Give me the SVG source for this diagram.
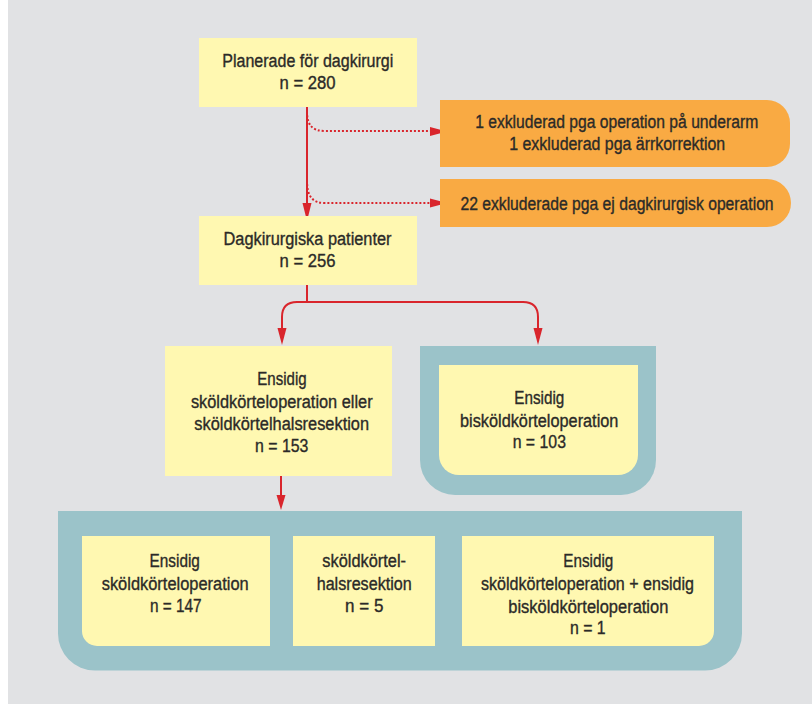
<svg xmlns="http://www.w3.org/2000/svg" width="812" height="704" viewBox="0 0 812 704">
<defs>
<style>
.t{font-family:"Liberation Sans Narrow","Liberation Sans",Arial,sans-serif;font-size:18px;fill:#2b2a28;stroke:#2b2a28;stroke-width:0.35;text-anchor:middle}
.y{fill:#fff8b1}
.o{fill:#f9aa43}
.f{fill:#9bc3c9}
.ln{fill:none;stroke:#d9252c;stroke-width:2}
.dt{fill:none;stroke:#d9252c;stroke-width:2;stroke-dasharray:2 2}
.ah{fill:#d9252c}
</style>
</defs>
<rect x="0" y="0" width="812" height="704" fill="#ffffff"/>
<rect x="8" y="0" width="804" height="704" fill="#e1e2e4"/>

<g id="connectors">
<path class="ln" d="M307,107 V205"/>
<polygon class="ah" points="302.5,203 311.5,203 307,221"/>
<path class="dt" d="M307,111 C307,125 312,131 325,131 H432"/>
<polygon class="ah" points="430,127 430,136 447,131.5"/>
<path class="dt" d="M307,180 C307,196 312,203 325,203 H432"/>
<polygon class="ah" points="430,198.5 430,207.5 447,203"/>
<path class="ln" d="M307,285 V302 H297 Q282,302 282,317 V330"/>
<path class="ln" d="M307,302 H523 Q538,302 538,317 V330"/>
<polygon class="ah" points="277.5,328 286.5,328 282,345"/>
<polygon class="ah" points="533.5,328 542.5,328 538,345"/>
<path class="ln" d="M281,476 V497"/>
<polygon class="ah" points="276.5,495 285.5,495 281,510"/>
</g>

<g id="n1">
<rect class="y" x="199" y="38" width="218" height="69"/>
<text class="t" x="307.8" y="67" textLength="171" lengthAdjust="spacingAndGlyphs">Planerade för dagkirurgi</text>
<text class="t" x="307.5" y="89" textLength="56" lengthAdjust="spacingAndGlyphs">n = 280</text>
</g>

<g id="ex1">
<path class="o" d="M440,100 H767 A23,23 0 0 1 790,123 V144 A23,23 0 0 1 767,167 H440 Z"/>
<text class="t" x="616.7" y="128" textLength="283" lengthAdjust="spacingAndGlyphs">1 exkluderad pga operation på underarm</text>
<text class="t" x="617.2" y="150" textLength="216" lengthAdjust="spacingAndGlyphs">1 exkluderad pga ärrkorrektion</text>
</g>

<g id="ex2">
<path class="o" d="M440,179 H767 A24,24 0 0 1 791,203 A24,24 0 0 1 767,227 H440 Z"/>
<text class="t" transform="translate(617,209.5) scale(0.87,1)" x="0" y="0" textLength="360" lengthAdjust="spacingAndGlyphs">22 exkluderade pga ej dagkirurgisk operation</text>
</g>

<g id="n2">
<rect class="y" x="199" y="216" width="218" height="69"/>
<text class="t" x="307.5" y="245" textLength="168" lengthAdjust="spacingAndGlyphs">Dagkirurgiska patienter</text>
<text class="t" x="307.5" y="267" textLength="56" lengthAdjust="spacingAndGlyphs">n = 256</text>
</g>

<g id="n3">
<rect class="y" x="165" y="346" width="227" height="130"/>
<text class="t" x="282" y="385" textLength="49.3" lengthAdjust="spacingAndGlyphs">Ensidig</text>
<text class="t" x="281.8" y="407.7" textLength="181.7" lengthAdjust="spacingAndGlyphs">sköldkörteloperation eller</text>
<text class="t" x="281.7" y="430" textLength="174.7" lengthAdjust="spacingAndGlyphs">sköldkörtelhalsresektion</text>
<text class="t" x="281.7" y="451.7" textLength="53.3" lengthAdjust="spacingAndGlyphs">n = 153</text>
</g>

<g id="n4">
<path class="f" d="M420,346 H656 V460 A35,35 0 0 1 621,495 H455 A35,35 0 0 1 420,460 Z"/>
<path class="y" d="M439,365 H638 V455 A20,20 0 0 1 618,475 H459 A20,20 0 0 1 439,455 Z"/>
<text class="t" x="539.3" y="404" textLength="50" lengthAdjust="spacingAndGlyphs">Ensidig</text>
<text class="t" x="539.2" y="426.7" textLength="158.3" lengthAdjust="spacingAndGlyphs">bisköldkörteloperation</text>
<text class="t" x="539.3" y="448.3" textLength="53.3" lengthAdjust="spacingAndGlyphs">n = 103</text>
</g>

<g id="n5">
<path class="f" d="M58,511 H742 V633 A37,37 0 0 1 705,670.5 H95 A37,37 0 0 1 58,633 Z"/>
</g>

<g id="n5a">
<path class="y" d="M82,536 H270 V646 H97 A15,15 0 0 1 82,631 Z"/>
<text class="t" x="174.7" y="567.3" textLength="50.3" lengthAdjust="spacingAndGlyphs">Ensidig</text>
<text class="t" x="175.2" y="590" textLength="147" lengthAdjust="spacingAndGlyphs">sköldkörteloperation</text>
<text class="t" x="175.8" y="612.3" textLength="51.7" lengthAdjust="spacingAndGlyphs">n = 147</text>
</g>

<g id="n5b">
<rect class="y" x="293" y="536" width="142" height="110"/>
<text class="t" x="364.2" y="567.3" textLength="83.7" lengthAdjust="spacingAndGlyphs">sköldkörtel-</text>
<text class="t" x="364.2" y="590" textLength="95" lengthAdjust="spacingAndGlyphs">halsresektion</text>
<text class="t" x="364.2" y="612.3" textLength="38.3" lengthAdjust="spacingAndGlyphs">n = 5</text>
</g>

<g id="n5c">
<path class="y" d="M462,536 H714 V631 A15,15 0 0 1 699,646 H462 Z"/>
<text class="t" x="588.3" y="566.7" textLength="50" lengthAdjust="spacingAndGlyphs">Ensidig</text>
<text class="t" x="587.5" y="590" textLength="213" lengthAdjust="spacingAndGlyphs">sköldkörteloperation + ensidig</text>
<text class="t" x="588.3" y="612.7" textLength="160" lengthAdjust="spacingAndGlyphs">bisköldkörteloperation</text>
<text class="t" x="587.8" y="634.3" textLength="35.7" lengthAdjust="spacingAndGlyphs">n = 1</text>
</g>
</svg>
